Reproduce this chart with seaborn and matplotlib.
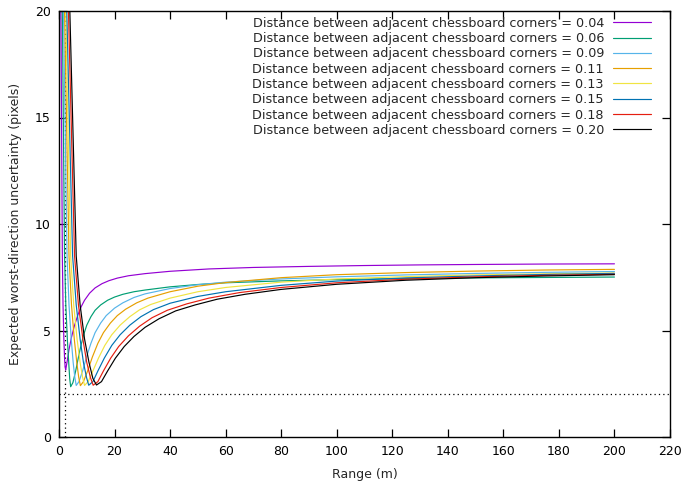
import matplotlib
matplotlib.use("Agg")
import matplotlib.pyplot as plt
import seaborn as sns
import pandas as pd

# Board spacing (m) for each curve and the gnuplot-style line colours
spacings = ["0.04", "0.06", "0.09", "0.11", "0.13", "0.15", "0.18", "0.20"]
colors = ["#9400d3", "#009e73", "#56b4e9", "#e69f00",
          "#f0e442", "#0072b2", "#e51e10", "#000000"]

# Range (m) and expected worst-direction uncertainty (pixels) per spacing
range_004 = [0.7, 1.2, 1.45, 1.75, 2.0, 2.2, 2.4, 3.0, 3.6, 4.4, 5.5, 6.8, 8.0, 9.2,
             11, 13, 15.5, 18, 21, 25, 31, 40, 54, 70, 90, 110, 130, 150, 175, 200]
unc_004 = [20, 8.5, 6.2, 4.6, 3.7, 3.3, 3.15, 3.6, 4.1, 4.63, 5.2, 5.73, 6.12, 6.42,
           6.75, 7.0, 7.2, 7.34, 7.46, 7.57, 7.67, 7.78, 7.89, 7.96, 8.01, 8.05, 8.08,
           8.1, 8.12, 8.13]

range_006 = [1.2, 2.0, 2.45, 3.0, 3.5, 3.85, 4.2, 5.0, 6.0, 7.0, 8.0, 9.0, 10, 11.5,
             13, 15, 17.5, 20, 23, 27, 31, 40, 50, 60, 80, 100, 125, 150, 175, 200]
unc_006 = [20, 8.5, 6.2, 4.6, 3.5, 2.75, 2.36, 2.55, 3.1, 3.75, 4.35, 4.85, 5.25, 5.65,
           5.95, 6.2, 6.42, 6.57, 6.7, 6.82, 6.9, 7.05, 7.16, 7.24, 7.33, 7.39, 7.44,
           7.47, 7.49, 7.51]

range_009 = [1.6, 2.9, 3.6, 4.4, 5.1, 5.7, 6.2, 7.2, 8.5, 10, 11.5, 13, 15, 17, 20,
             23, 27, 31, 40, 50, 60, 80, 100, 125, 150, 175, 200]
unc_009 = [20, 8.5, 6.2, 4.6, 3.5, 2.8, 2.42, 2.6, 3.1, 3.8, 4.4, 4.9, 5.35, 5.7, 6.05,
           6.3, 6.55, 6.72, 6.97, 7.15, 7.27, 7.42, 7.52, 7.61, 7.68, 7.73, 7.77]

range_011 = [2.0, 3.6, 4.5, 5.5, 6.4, 7.1, 7.7, 8.8, 10.3, 12, 14, 16, 18.5, 21, 24,
             28, 32, 40, 50, 60, 80, 100, 125, 150, 175, 200]
unc_011 = [20, 8.5, 6.2, 4.6, 3.5, 2.8, 2.41, 2.6, 3.1, 3.75, 4.4, 4.9, 5.35, 5.7, 6.0,
           6.3, 6.52, 6.82, 7.08, 7.25, 7.48, 7.62, 7.72, 7.79, 7.84, 7.87]

range_013 = [2.4, 4.2, 5.3, 6.5, 7.6, 8.5, 9.2, 10.5, 12.2, 14.2, 16.5, 19, 22, 25.5,
             29, 33, 40, 50, 60, 80, 100, 125, 150, 175, 200]
unc_013 = [20, 8.5, 6.2, 4.6, 3.5, 2.8, 2.42, 2.6, 3.1, 3.7, 4.3, 4.8, 5.25, 5.65,
           5.97, 6.22, 6.52, 6.82, 7.02, 7.27, 7.42, 7.53, 7.61, 7.66, 7.7]

range_015 = [2.8, 4.9, 6.2, 7.6, 8.8, 9.9, 10.7, 12.2, 14, 16.3, 19, 22, 25.5, 29.5,
             34, 40, 50, 60, 80, 100, 125, 150, 175, 200]
unc_015 = [20, 8.5, 6.2, 4.6, 3.5, 2.8, 2.43, 2.6, 3.1, 3.7, 4.3, 4.8, 5.25, 5.65,
           5.98, 6.28, 6.6, 6.82, 7.12, 7.32, 7.47, 7.56, 7.63, 7.68]

range_018 = [3.4, 5.6, 7.0, 8.6, 10.0, 11.3, 12.3, 14, 16, 18.6, 21.5, 25, 29, 33.5,
             39, 46, 54, 65, 80, 100, 125, 150, 175, 200]
unc_018 = [20, 8.5, 6.2, 4.6, 3.5, 2.8, 2.43, 2.6, 3.1, 3.7, 4.25, 4.75, 5.2, 5.6,
           5.95, 6.25, 6.52, 6.78, 7.02, 7.24, 7.41, 7.52, 7.59, 7.64]

range_020 = [3.9, 6.2, 7.6, 9.2, 10.8, 12.2, 13.5, 15.3, 17.5, 20.3, 23.5, 27, 31, 36,
             42, 49, 57, 67, 80, 100, 125, 150, 175, 200]
unc_020 = [20, 8.5, 6.2, 4.6, 3.5, 2.75, 2.44, 2.6, 3.1, 3.7, 4.25, 4.72, 5.15, 5.55,
           5.92, 6.2, 6.47, 6.7, 6.93, 7.17, 7.36, 7.48, 7.56, 7.62]

ranges = [range_004, range_006, range_009, range_011,
          range_013, range_015, range_018, range_020]
uncertainties = [unc_004, unc_006, unc_009, unc_011,
                 unc_013, unc_015, unc_018, unc_020]

# Reference levels drawn as dotted lines
min_range = 2.0
pixel_floor = 2.0

labels = [f"Distance between adjacent chessboard corners = {s}" for s in spacings]
frames = []
for lab, xs, ys in zip(labels, ranges, uncertainties):
    frames.append(pd.DataFrame({"range": xs, "uncertainty": ys, "series": lab}))
df = pd.concat(frames, ignore_index=True)

sns.set_theme(style="ticks")
plt.rcParams["font.family"] = ["DejaVu Sans"]

fig = plt.figure(figsize=(6.85, 4.83), dpi=100)
ax = fig.add_axes([59 / 685, 46 / 483, 611 / 685, 426 / 483])

sns.lineplot(data=df, x="range", y="uncertainty", hue="series",
             hue_order=labels, palette=colors, estimator=None, sort=False,
             linewidth=0.85, ax=ax)

ax.axhline(pixel_floor, color="black", linewidth=0.9, linestyle=(0, (1, 2.5)), zorder=1)
ax.axvline(min_range, color="black", linewidth=0.9, linestyle=(0, (1, 2.5)), zorder=1)

ax.set_xlim(0, 220)
ax.set_ylim(0, 20)
ax.set_xticks(range(0, 221, 20))
ax.set_yticks([0, 5, 10, 15, 20])
ax.tick_params(direction="in", length=6, width=0.9, top=True, right=True,
               labelsize=9, colors="black", pad=6)
for side in ax.spines.values():
    side.set_color("black")
    side.set_linewidth(1.0)

ax.set_xlabel("Range (m)", fontsize=9, labelpad=7)
ax.set_ylabel("Expected worst-direction uncertainty (pixels)", fontsize=9, labelpad=9)

leg = ax.legend(loc="upper right", bbox_to_anchor=(0.978, 1.0), frameon=False,
                markerfirst=False, fontsize=9.2, handlelength=2.97,
                handletextpad=0.7, labelspacing=0.18, borderaxespad=0.0,
                borderpad=0.45)

fig.savefig("out.png", dpi=100)
